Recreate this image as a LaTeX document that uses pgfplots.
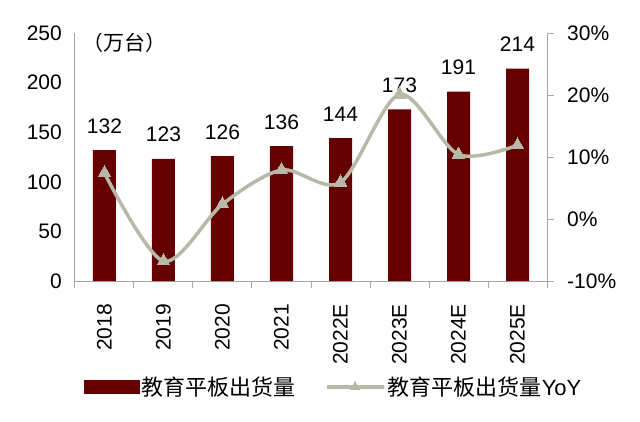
\documentclass[border=0pt]{standalone}
\usepackage{fontspec}
\setmainfont{Liberation Sans}
\newfontfamily\cjk{Noto Sans CJK SC}
\usepackage{pgfplots}
\pgfplotsset{compat=1.18}
\definecolor{cBar}{HTML}{660000}
\definecolor{cLine}{HTML}{B8B8A9}
\definecolor{cAxis}{HTML}{A6A6A6}

\pgfplotsset{
  base/.style={
    scale only axis, width=472pt, height=248pt,
    xmin=-0.5, xmax=7.5,
    /pgf/number format/assume math mode=true,
    tick label style={font=\fontsize{21}{24}\selectfont},
    axis line style={cAxis, line width=1pt},
    tick style={cAxis, line width=1pt},
    tick align=outside, major tick length=7pt,
  },
  barleg/.style={legend image code/.code={
    \fill[cBar] (0pt,-6.5pt) rectangle (55pt,6.5pt);}},
  lineleg/.style={legend image code/.code={
    \draw[##1, mark repeat=2, mark phase=2, mark size=5.5pt] plot coordinates {(0pt,0pt) (28pt,0pt) (57pt,0pt)};}},
}

\begin{document}
\begin{tikzpicture}[x=1pt,y=1pt]
\useasboundingbox (-75,-140) rectangle (565,281);
\begin{axis}[base,
  ymin=0, ymax=250, ytick={0,50,...,250},
  axis y line*=left, axis x line*=bottom,
  ytick style={draw=none},
  yticklabel style={anchor=east, inner sep=0pt, xshift=-6pt},
  xtick={-0.5,0.5,...,7.5},
  x tick label as interval,
  xticklabels={2018,2019,2020,2021,2022E,2023E,2024E,2025E},
  xticklabel style={rotate=90, anchor=east, inner sep=0pt},
  xticklabel shift=16pt,
  ybar, bar width=23pt, bar shift=0pt,
  nodes near coords,
  every node near coord/.append style={anchor=base, inner sep=0pt, yshift=17pt,
    font=\fontsize{21}{24}\selectfont, black},
]
\addplot[fill=cBar, draw=none] coordinates {
  (0,132) (1,123) (2,126) (3,136) (4,144) (5,173) (6,191) (7,214)};
\node[anchor=west, inner sep=0pt] at (rel axis cs:0.015,0.96)
  {\cjk\fontsize{21}{24}\selectfont （万台）};
\end{axis}
\begin{axis}[base,
  ymin=-10, ymax=30, ytick={-10,0,...,30},
  yticklabels={-10\%,0\%,10\%,20\%,30\%},
  axis y line*=right, axis x line=none,
  yticklabel style={anchor=west, inner sep=0pt, xshift=13pt},
  legend style={at={(0.548,-0.427)}, anchor=center, draw=none, fill=none,
    legend columns=2, font=\fontsize{22}{25}\selectfont,
    /tikz/every even column/.append style={column sep=28pt},
    nodes={inner sep=2pt}},
]
\addlegendimage{barleg}
\addlegendentry{\cjk 教育平板出货量}
\addplot[cLine, line width=3.5pt, smooth, mark=triangle*,
  mark size=7.5pt, mark options={fill=cLine, draw=cLine, line width=0pt},
  lineleg]
  coordinates {(0,7.4) (1,-6.8) (2,2.4) (3,7.9) (4,5.9) (5,20.1) (6,10.4) (7,11.9)};
\addlegendentry{{\cjk 教育平板出货量}YoY}
\end{axis}
\end{tikzpicture}
\end{document}
